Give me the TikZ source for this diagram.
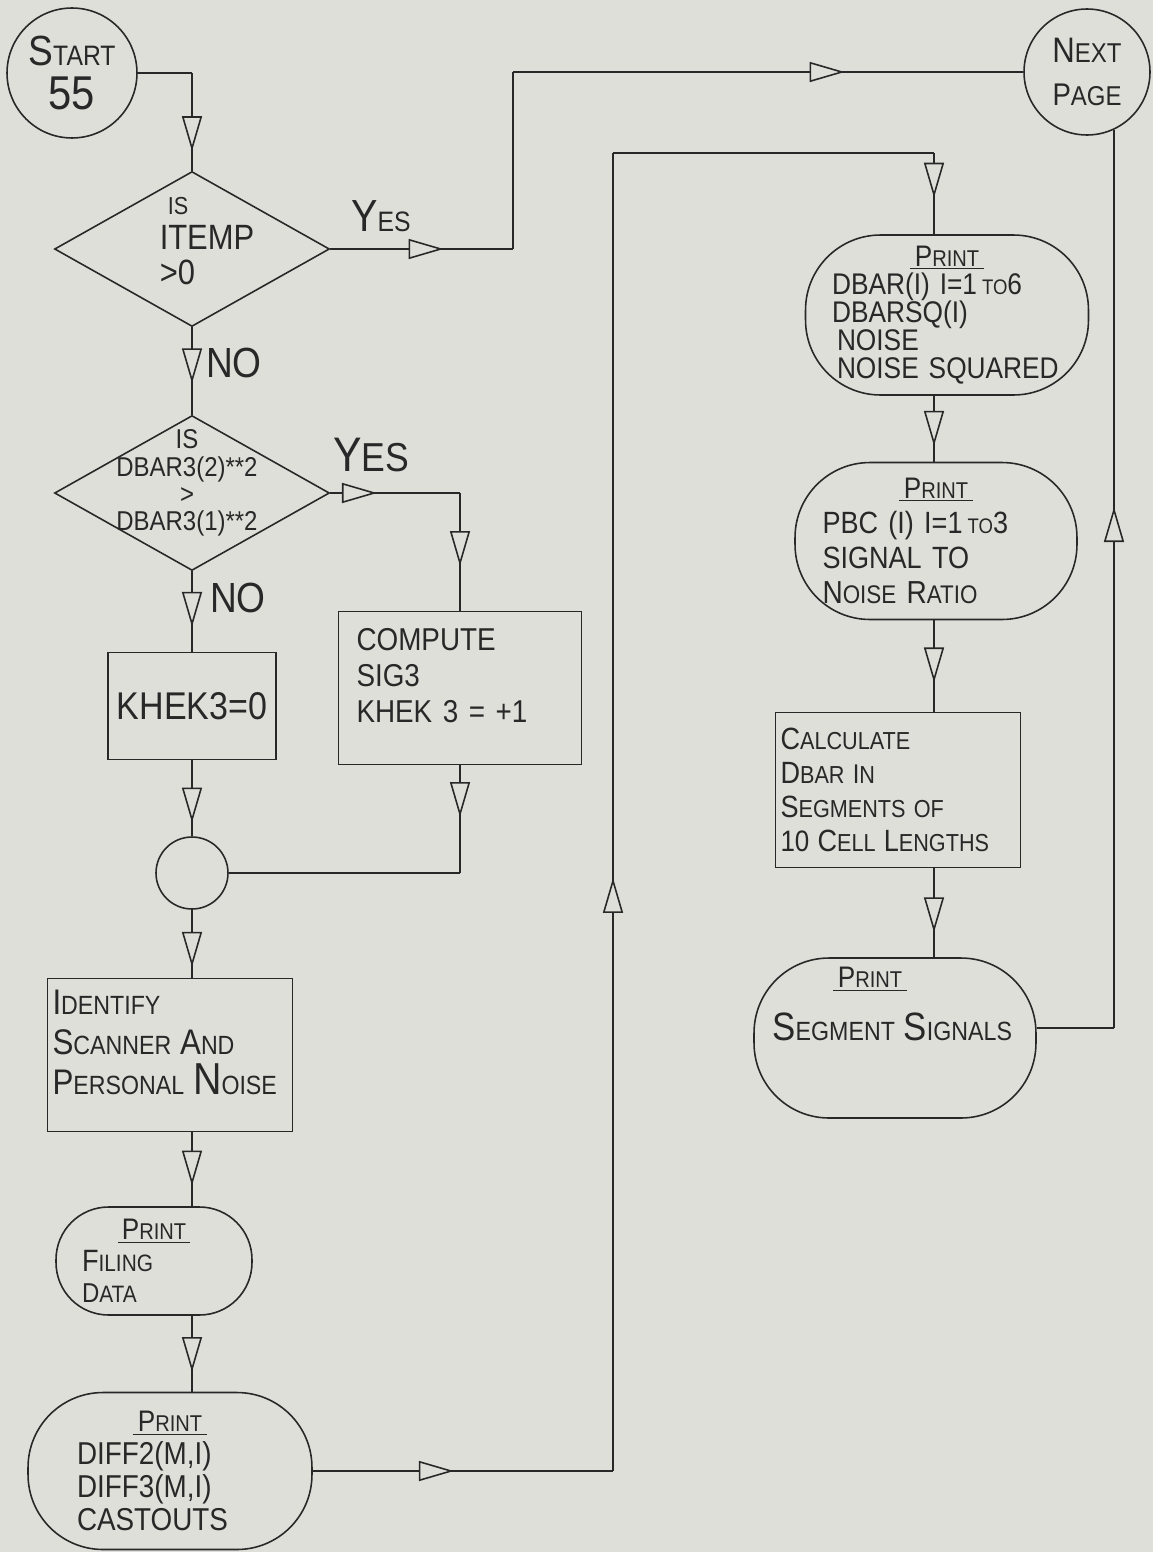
\documentclass[tikz,border=0pt]{standalone}
\usepackage{fontspec}
\setmainfont{Liberation Sans}[FakeStretch=0.88]
\usepackage{graphicx}
\usetikzlibrary{shapes.geometric,arrows.meta,decorations.markings}

\definecolor{paper}{RGB}{222,223,217}
\definecolor{ink}{RGB}{40,40,40}

\newcommand{\Ini}[2][1.35]{\scalebox{#1}{#2}}
\newcommand{\fsize}[2]{\fontsize{#1}{#2}\selectfont}
\newcommand{\prt}{\underline{\,{\fsize{13}{13}\Ini[1.3]{P}RINT}\,}}

\tikzset{
  hollow/.tip={Triangle[length=0.7cm,width=0.4cm,fill=paper]},
  mid/.style={postaction={decorate},decoration={markings,mark=at position #1 with {\arrow{hollow}}}},
  terminal/.style={circle,draw,inner sep=0pt,align=center},
  decision/.style={diamond,draw,inner sep=0pt,minimum width=5.5cm,minimum height=3.1cm},
  procbox/.style={rectangle,draw,inner sep=0pt,align=left},
  printout/.style={rectangle,draw,rounded corners=1.5cm,inner sep=0pt,align=left}
}

\begin{document}
\begin{tikzpicture}[x=0.02cm,y=-0.02cm,line width=0.9pt,color=ink]
\useasboundingbox (0,0) rectangle (1153,1552);
\fill[paper] (0,0) rectangle (1153,1552);

% left column
\node[terminal,minimum size=2.6cm,font=\fsize{16}{25}] (start) at (72,73) {\Ini[1.5]{S}TART\\{\fsize{27}{27}55}};
\node[decision] (q1) at (192,249) {};
\node[align=left,font=\fsize{20}{20}] (q1txt) at (207,241) {\hspace{0.16cm}{\fsize{14}{14}IS}\\ITEMP\\>0};
\node[decision] (q2) at (192,493) {};
\node[align=center,font=\fsize{15.5}{15.5}] (q2txt) at (187,483) {IS\\DBAR3(2)**2\\>\\DBAR3(1)**2};
\node[procbox,minimum width=3.36cm,minimum height=2.14cm,font=\fsize{22}{22}] (khek) at (192,706) {KHEK3=0};
\node[procbox,minimum width=4.86cm,minimum height=3.06cm,text width=4.14cm,font=\fsize{18}{20.5}] (comp) at (460,688) {COMPUTE\\SIG3\\KHEK 3 = +1\\[-6pt]\mbox{}};
\node[terminal,minimum size=1.44cm] (jn) at (192,873) {};
\node[procbox,minimum width=4.9cm,minimum height=3.06cm,text width=4.7cm,font=\fsize{15}{22.5}] (ident) at (170,1055) {\Ini{I}DENTIFY\\\Ini{S}CANNER \Ini{A}ND\\\Ini{P}ERSONAL \Ini[1.7]{N}OISE\\[-8pt]\mbox{}};
\node[printout,rounded corners=1.05cm,minimum width=3.92cm,minimum height=2.16cm,text width=2.88cm,font=\fsize{13.5}{18}] (filing) at (154,1261) {\makebox[\linewidth]{\prt}\\\Ini[1.3]{F}ILING\\\Ini[1.15]{D}ATA};
\node[printout,minimum width=5.68cm,minimum height=3.14cm,text width=3.72cm,font=\fsize{18}{18.8}] (cast) at (170,1471) {\makebox[\linewidth]{\prt}\\DIFF2(M,I)\\DIFF3(M,I)\\CASTOUTS};

% right column
\node[terminal,minimum size=2.52cm,font=\fsize{15.5}{24}] (next) at (1087,72) {\Ini[1.3]{N}EXT\\\Ini[1.15]{P}AGE};
\node[printout,minimum width=5.66cm,minimum height=3.2cm,text width=4.6cm,font=\fsize{17}{16}] (dbar) at (947,315) {\makebox[\linewidth]{\prt}\\DBAR(I) I=1\,{\fsize{12}{12}TO}6\\DBARSQ(I)\\\,NOISE\\\,NOISE SQUARED};
\node[printout,minimum width=5.64cm,minimum height=3.14cm,text width=4.54cm,font=\fsize{17.5}{20}] (pbc) at (936,541) {\makebox[\linewidth]{\prt}\\PBC (I) I=1\,{\fsize{12}{12}TO}3\\SIGNAL TO\\{\fsize{14.5}{20}\Ini[1.25]{N}OISE \Ini[1.25]{R}ATIO}};
\node[procbox,minimum width=4.9cm,minimum height=3.1cm,text width=4.7cm,font=\fsize{14}{19.4}] (calc) at (898,790) {\Ini[1.25]{C}ALCULATE\\\Ini[1.25]{D}BAR \Ini[1.1]{I}N\\\Ini[1.25]{S}EGMENTS OF\\\Ini[1.2]{10} \Ini[1.25]{C}ELL \Ini[1.25]{L}ENGTHS};
\node[printout,minimum width=5.64cm,minimum height=3.2cm,text width=4.9cm,font=\fsize{15}{30}] (seg) at (895,1038) {\makebox[\linewidth]{\prt\hspace{1cm}}\\\Ini[1.5]{S}EGMENT \Ini[1.5]{S}IGNALS\\[9pt]\mbox{}};

% branch labels
\node[font=\fsize{16}{16}] (yes1) at (381,216) {\Ini[1.6]{Y}ES};
\node[font=\fsize{24}{24}] (no1) at (234,363) {NO};
\node[font=\fsize{23}{23}] (yes2) at (371,455) {\Ini[1.2]{Y}ES};
\node[font=\fsize{24}{24}] (no2) at (238,598) {NO};

% corners
\coordinate (sa) at (192,73);
\coordinate (ya) at (513,249);
\coordinate (yb) at (513,72);
\coordinate (qa) at (460,493);
\coordinate (ca) at (460,873);
\coordinate (la) at (613,1471);
\coordinate (lb) at (613,153);
\coordinate (lc) at (934,153);
\coordinate (ra) at (1114,1028);

% flow lines
\draw (start) -- (sa);
\draw[mid=.8] (sa) -- (q1);
\draw[mid=.62] (q1) -- (ya);
\draw (ya) -- (yb);
\draw[mid=.65] (yb) -- (next);
\draw[mid=.64] (q1) -- (q2);
\draw[mid=.36] (q2) -- (qa);
\draw[mid=.62] (qa) -- (comp);
\draw[mid=.69] (q2) -- (khek);
\draw[mid=.82] (khek) -- (jn);
\draw[mid=.48] (comp) -- (ca);
\draw (ca) -- (jn);
\draw[mid=.84] (jn) -- (jn |- ident.north);
\draw[mid=.72] (jn |- ident.south) -- (jn |- filing.north);
\draw[mid=.74] (jn |- filing.south) -- (jn |- cast.north);
\draw[mid=.47] (cast) -- (la);
\draw[mid=.45] (la) -- (lb);
\draw (lb) -- (lc);
\draw[mid=.55] (lc) -- (lc |- dbar.north);
\draw[mid=.76] (lc |- dbar.south) -- (lc |- pbc.north);
\draw[mid=.68] (lc |- pbc.south) -- (lc |- calc.north);
\draw[mid=.72] (lc |- calc.south) -- (lc |- seg.north);
\draw (seg.east |- ra) -- (ra);
\draw[mid=.58] (ra) -- (ra |- next.-65);
\end{tikzpicture}
\end{document}
